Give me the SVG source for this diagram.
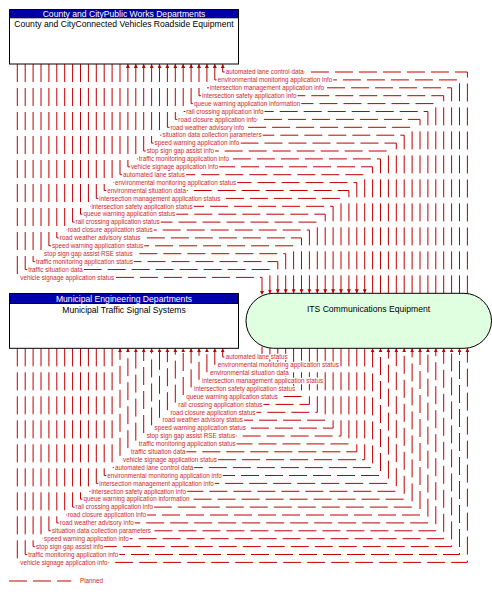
<svg xmlns="http://www.w3.org/2000/svg" width="492" height="594" viewBox="0 0 492 594">
<style>
.fl{fill:none;stroke:#c00000;stroke-width:1;stroke-dasharray:18 6}
.lb{font-family:"Liberation Sans",Arial,sans-serif;font-size:6.3px;fill:#d02828;stroke:#fff;stroke-width:2.6px;stroke-linejoin:round;paint-order:stroke}
.box{fill:#fff;stroke:#000;stroke-width:1}
.hdr{fill:#0000a8;stroke:#000;stroke-width:1}
.ht{font-family:"Liberation Sans",Arial,sans-serif;font-size:8.6px;fill:#fff;text-anchor:middle}
.tt{font-family:"Liberation Sans",Arial,sans-serif;font-size:8.6px;fill:#000;text-anchor:middle}
</style>
<defs>
<marker id="arr" viewBox="0 0 8 8" refX="8" refY="4" markerWidth="4" markerHeight="4" markerUnits="userSpaceOnUse" orient="auto">
<path d="M0,0 L8,4 L0,8 z" fill="#c00000"/>
</marker>
</defs>
<g id="connectors">
<g id="lines">
<path class="fl" marker-end="url(#arr)" d="M467.4,293.5 V72 H222.7 V64"/>
<path class="fl" marker-end="url(#arr)" d="M459.5,293.3 V79.9 H214.8 V64"/>
<path class="fl" marker-end="url(#arr)" d="M451.6,293.3 V87.8 H206.9 V64"/>
<path class="fl" marker-end="url(#arr)" d="M443.7,293.3 V95.7 H199 V64"/>
<path class="fl" marker-end="url(#arr)" d="M435.8,293.3 V103.6 H191.1 V64"/>
<path class="fl" marker-end="url(#arr)" d="M427.9,293.3 V111.5 H183.2 V64"/>
<path class="fl" marker-end="url(#arr)" d="M420,293.3 V119.4 H175.3 V64"/>
<path class="fl" marker-end="url(#arr)" d="M412.1,293.3 V127.3 H167.4 V64"/>
<path class="fl" marker-end="url(#arr)" d="M404.2,293.3 V135.2 H159.5 V64"/>
<path class="fl" marker-end="url(#arr)" d="M396.3,293.3 V143.1 H151.6 V64"/>
<path class="fl" marker-end="url(#arr)" d="M388.4,293.3 V151 H143.7 V64"/>
<path class="fl" marker-end="url(#arr)" d="M380.5,293.3 V158.9 H135.8 V64"/>
<path class="fl" marker-end="url(#arr)" d="M372.6,293.3 V166.8 H127.9 V64"/>
<path class="fl" marker-end="url(#arr)" d="M120,64 V174.7 H364.7 V293.3"/>
<path class="fl" marker-end="url(#arr)" d="M112.1,64 V182.6 H356.8 V293.3"/>
<path class="fl" marker-end="url(#arr)" d="M104.2,64 V190.5 H348.9 V293.3"/>
<path class="fl" marker-end="url(#arr)" d="M96.3,64 V198.4 H341 V293.3"/>
<path class="fl" marker-end="url(#arr)" d="M88.4,64 V206.3 H333.1 V293.3"/>
<path class="fl" marker-end="url(#arr)" d="M80.5,64 V214.2 H325.2 V293.3"/>
<path class="fl" marker-end="url(#arr)" d="M72.6,64 V222.1 H317.3 V293.3"/>
<path class="fl" marker-end="url(#arr)" d="M64.7,64 V230 H309.4 V293.3"/>
<path class="fl" marker-end="url(#arr)" d="M56.8,64 V237.9 H301.5 V293.3"/>
<path class="fl" marker-end="url(#arr)" d="M48.9,64 V245.8 H293.6 V293.3"/>
<path class="fl" marker-end="url(#arr)" d="M41,64 V253.7 H285.7 V293.3"/>
<path class="fl" marker-end="url(#arr)" d="M33.1,64 V261.6 H277.8 V293.3"/>
<path class="fl" marker-end="url(#arr)" d="M25.2,64 V269.5 H269.9 V293.5"/>
<path class="fl" marker-end="url(#arr)" d="M17.3,64 V277.4 H262 V295"/>
<path class="fl" marker-end="url(#arr)" d="M262,346.5 V357 H222.7 V348.3"/>
<path class="fl" marker-end="url(#arr)" d="M269.9,348.1 V364.9 H214.8 V348.3"/>
<path class="fl" marker-end="url(#arr)" d="M277.8,348.3 V372.8 H206.9 V348.3"/>
<path class="fl" marker-end="url(#arr)" d="M285.7,348.3 V380.7 H199 V348.3"/>
<path class="fl" marker-end="url(#arr)" d="M293.6,348.3 V388.6 H191.1 V348.3"/>
<path class="fl" marker-end="url(#arr)" d="M301.5,348.3 V396.5 H183.2 V348.3"/>
<path class="fl" marker-end="url(#arr)" d="M309.4,348.3 V404.4 H175.3 V348.3"/>
<path class="fl" marker-end="url(#arr)" d="M317.3,348.3 V412.3 H167.4 V348.3"/>
<path class="fl" marker-end="url(#arr)" d="M325.2,348.3 V420.2 H159.5 V348.3"/>
<path class="fl" marker-end="url(#arr)" d="M333.1,348.3 V428.1 H151.6 V348.3"/>
<path class="fl" marker-end="url(#arr)" d="M341,348.3 V436 H143.7 V348.3"/>
<path class="fl" marker-end="url(#arr)" d="M348.9,348.3 V443.9 H135.8 V348.3"/>
<path class="fl" marker-end="url(#arr)" d="M356.8,348.3 V451.8 H127.9 V348.3"/>
<path class="fl" marker-end="url(#arr)" d="M364.7,348.3 V459.7 H120 V348.3"/>
<path class="fl" marker-end="url(#arr)" d="M112.1,348.3 V467.6 H372.6 V348.3"/>
<path class="fl" marker-end="url(#arr)" d="M104.2,348.3 V475.5 H380.5 V348.3"/>
<path class="fl" marker-end="url(#arr)" d="M96.3,348.3 V483.4 H388.4 V348.3"/>
<path class="fl" marker-end="url(#arr)" d="M88.4,348.3 V491.3 H396.3 V348.3"/>
<path class="fl" marker-end="url(#arr)" d="M80.5,348.3 V499.2 H404.2 V348.3"/>
<path class="fl" marker-end="url(#arr)" d="M72.6,348.3 V507.1 H412.1 V348.3"/>
<path class="fl" marker-end="url(#arr)" d="M64.7,348.3 V515 H420 V348.3"/>
<path class="fl" marker-end="url(#arr)" d="M56.8,348.3 V522.9 H427.9 V348.3"/>
<path class="fl" marker-end="url(#arr)" d="M48.9,348.3 V530.8 H435.8 V348.3"/>
<path class="fl" marker-end="url(#arr)" d="M41,348.3 V538.7 H443.7 V348.3"/>
<path class="fl" marker-end="url(#arr)" d="M33.1,348.3 V546.6 H451.6 V348.3"/>
<path class="fl" marker-end="url(#arr)" d="M25.2,348.3 V554.5 H459.5 V348.3"/>
<path class="fl" marker-end="url(#arr)" d="M17.3,348.3 V562.4 H467.4 V348.1"/>
</g>
<g id="labels">
<text class="lb" x="225.7" y="74.2">automated lane control data</text>
<text class="lb" x="217.8" y="82.1">environmental monitoring application info</text>
<text class="lb" x="209.9" y="90">intersection management application info</text>
<text class="lb" x="202" y="97.9">intersection safety application info</text>
<text class="lb" x="194.1" y="105.8">queue warning application information</text>
<text class="lb" x="186.2" y="113.7">rail crossing application info</text>
<text class="lb" x="178.3" y="121.6">road closure application info</text>
<text class="lb" x="170.4" y="129.5">road weather advisory info</text>
<text class="lb" x="162.5" y="137.4">situation data collection parameters</text>
<text class="lb" x="154.6" y="145.3">speed warning application info</text>
<text class="lb" x="146.7" y="153.2">stop sign gap assist info</text>
<text class="lb" x="138.8" y="161.1">traffic monitoring application info</text>
<text class="lb" x="130.9" y="169">vehicle signage application info</text>
<text class="lb" x="123" y="176.9">automated lane status</text>
<text class="lb" x="115.1" y="184.8">environmental monitoring application status</text>
<text class="lb" x="107.2" y="192.7">environmental situation data</text>
<text class="lb" x="99.3" y="200.6">intersection management application status</text>
<text class="lb" x="91.4" y="208.5">intersection safety application status</text>
<text class="lb" x="83.5" y="216.4">queue warning application status</text>
<text class="lb" x="75.6" y="224.3">rail crossing application status</text>
<text class="lb" x="67.7" y="232.2">road closure application status</text>
<text class="lb" x="59.8" y="240.1">road weather advisory status</text>
<text class="lb" x="51.9" y="248">speed warning application status</text>
<text class="lb" x="44" y="255.9">stop sign gap assist RSE status</text>
<text class="lb" x="36.1" y="263.8">traffic monitoring application status</text>
<text class="lb" x="28.2" y="271.7">traffic situation data</text>
<text class="lb" x="20.3" y="279.6">vehicle signage application status</text>
<text class="lb" x="225.7" y="359.2">automated lane status</text>
<text class="lb" x="217.8" y="367.1">environmental monitoring application status</text>
<text class="lb" x="209.9" y="375">environmental situation data</text>
<text class="lb" x="202" y="382.9">intersection management application status</text>
<text class="lb" x="194.1" y="390.8">intersection safety application status</text>
<text class="lb" x="186.2" y="398.7">queue warning application status</text>
<text class="lb" x="178.3" y="406.6">rail crossing application status</text>
<text class="lb" x="170.4" y="414.5">road closure application status</text>
<text class="lb" x="162.5" y="422.4">road weather advisory status</text>
<text class="lb" x="154.6" y="430.3">speed warning application status</text>
<text class="lb" x="146.7" y="438.2">stop sign gap assist RSE status</text>
<text class="lb" x="138.8" y="446.1">traffic monitoring application status</text>
<text class="lb" x="130.9" y="454">traffic situation data</text>
<text class="lb" x="123" y="461.9">vehicle signage application status</text>
<text class="lb" x="115.1" y="469.8">automated lane control data</text>
<text class="lb" x="107.2" y="477.7">environmental monitoring application info</text>
<text class="lb" x="99.3" y="485.6">intersection management application info</text>
<text class="lb" x="91.4" y="493.5">intersection safety application info</text>
<text class="lb" x="83.5" y="501.4">queue warning application information</text>
<text class="lb" x="75.6" y="509.3">rail crossing application info</text>
<text class="lb" x="67.7" y="517.2">road closure application info</text>
<text class="lb" x="59.8" y="525.1">road weather advisory info</text>
<text class="lb" x="51.9" y="533">situation data collection parameters</text>
<text class="lb" x="44" y="540.9">speed warning application info</text>
<text class="lb" x="36.1" y="548.8">stop sign gap assist info</text>
<text class="lb" x="28.2" y="556.7">traffic monitoring application info</text>
<text class="lb" x="20.3" y="564.6">vehicle signage application info</text>
</g>
</g>
<g id="node-cv-rse">
<rect class="box" x="9.5" y="9.5" width="229" height="54.5"/>
<rect class="hdr" x="9.5" y="9.5" width="229" height="8.3"/>
<text class="ht" x="124" y="17">County and CityPublic Works Departments</text>
<text class="tt" x="124" y="27.3">County and CityConnected Vehicles Roadside Equipment</text>
</g>
<g id="node-mtss">
<rect class="box" x="9.5" y="293.5" width="229" height="54.8"/>
<rect class="hdr" x="9.5" y="293.5" width="229" height="10"/>
<text class="ht" x="124" y="302.2">Municipal Engineering Departments</text>
<text class="tt" x="124" y="312.5">Municipal Traffic Signal Systems</text>
</g>
<g id="node-its">
<rect x="246" y="293.3" width="245.5" height="55" rx="27.5" ry="27.5" fill="#e0ffe0" stroke="#000" stroke-width="1"/>
<text class="tt" x="368.5" y="312">ITS Communications Equipment</text>
</g>
<g id="legend">
<path class="fl" d="M9,581 H71.3"/>
<text class="lb" x="80" y="583.2" style="stroke:none">Planned</text>
</g>
</svg>
